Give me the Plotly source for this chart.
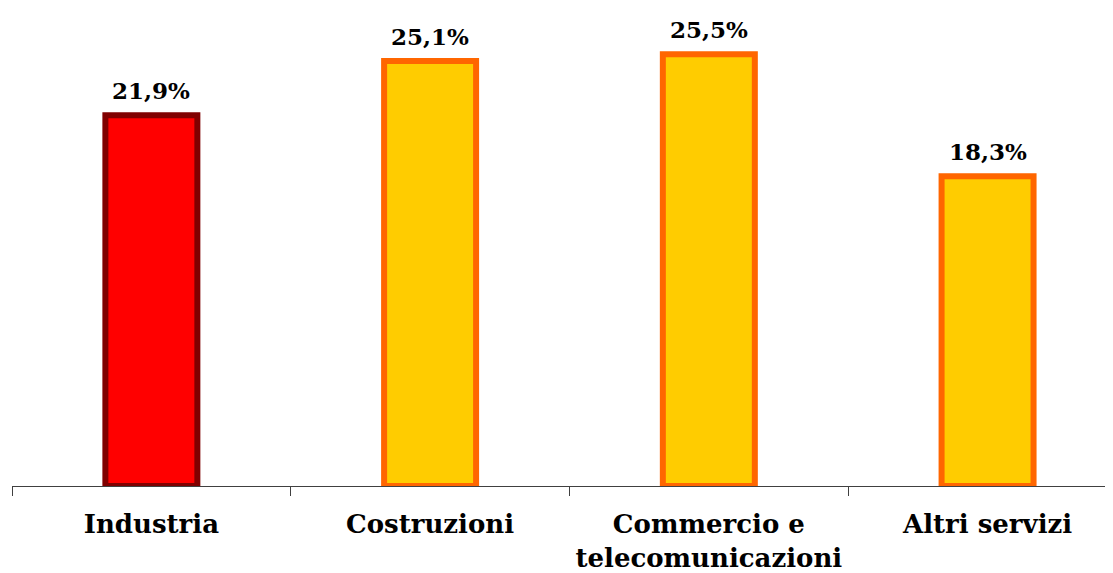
import plotly.graph_objects as go

categories = ["Industria", "Costruzioni", "Commercio e<br>telecomunicazioni", "Altri servizi"]
values = [21.9, 25.1, 25.5, 18.3]
labels = ["21,9%", "25,1%", "25,5%", "18,3%"]
fill_colors = ["#FF0000", "#FFCC00", "#FFCC00", "#FFCC00"]
line_colors = ["#800000", "#FF6600", "#FF6600", "#FF6600"]

FONT = "DejaVu Serif"

fig = go.Figure(go.Bar(
    x=categories,
    y=values,
    width=0.33,
    marker=dict(color=fill_colors, line=dict(color=line_colors, width=6)),
    cliponaxis=False,
))

for c, v, t in zip(categories, values, labels):
    fig.add_annotation(
        x=c, y=v, text=t, showarrow=False,
        xanchor="center", yanchor="bottom", yshift=9,
        font=dict(family=FONT, size=23, color="black", weight="bold"),
    )

fig.update_layout(
    width=1113, height=573,
    margin=dict(l=4, r=8, t=0, b=95, autoexpand=False),
    plot_bgcolor="white", paper_bgcolor="white",
    showlegend=False,
    xaxis=dict(
        type="category",
        range=[-0.5, 3.45],
        tickson="boundaries",
        ticks="outside", ticklen=9, tickcolor="#404040", tickwidth=1,
        showline=True, linecolor="#404040", linewidth=1,
        showgrid=False,
        automargin=False,
        tickangle=0,
        ticklabelstandoff=15,
        tickfont=dict(family=FONT, size=26, color="black", weight="bold"),
    ),
    yaxis=dict(
        range=[0, 28.23],
        visible=False,
        showgrid=False,
        zeroline=False,
        automargin=False,
    ),
)

fig.write_html("out.html")
